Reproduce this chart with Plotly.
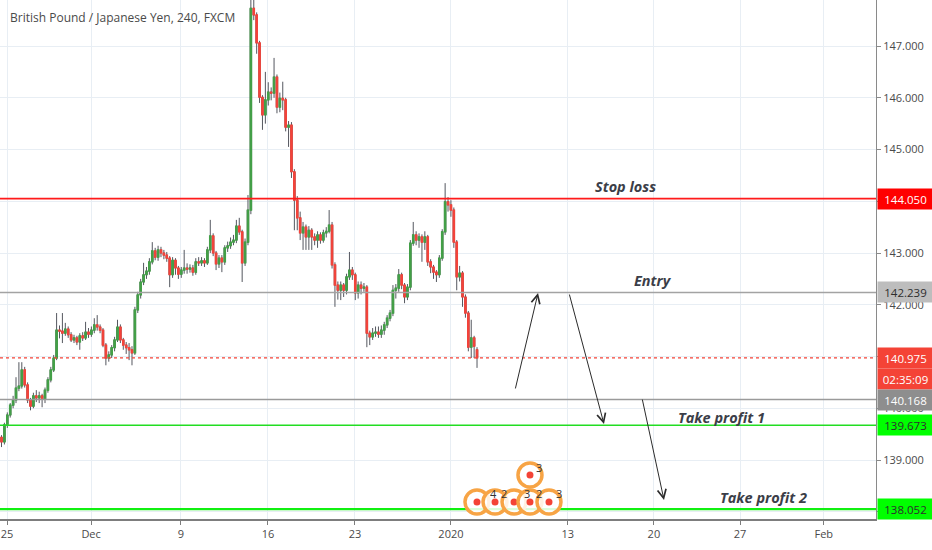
import plotly.graph_objects as go

# ---------------- data (GBP/JPY, 4h bars) ----------------
open_ = [139.44, 139.35, 139.68, 139.87, 140.06, 140.16, 140.39, 140.43, 140.74, 140.45,
         140.16, 140.04, 140.24, 140.20, 140.24, 140.18, 140.35, 140.55, 140.74, 140.97,
         141.51, 141.49, 141.45, 141.53, 141.42, 141.32, 141.36, 141.28, 141.40, 141.36,
         141.47, 141.43, 141.51, 141.61, 141.57, 141.51, 141.22, 140.97, 141.03, 141.17,
         141.32, 141.57, 141.32, 141.22, 141.17, 141.13, 141.07, 141.90, 142.19, 142.44,
         142.58, 142.65, 142.83, 143.04, 142.92, 143.06, 143.00, 142.96, 142.90, 142.58,
         142.86, 142.71, 142.59, 142.67, 142.71, 142.69, 142.71, 142.63, 142.83, 142.81,
         142.85, 142.81, 143.06, 143.33, 143.00, 142.79, 142.90, 142.83, 143.10, 143.14,
         143.21, 143.25, 143.52, 143.41, 142.81, 143.21, 143.83, 147.73, 147.60, 147.06,
         146.01, 145.67, 145.96, 146.11, 146.09, 146.40, 145.82, 145.99, 145.96, 145.43,
         145.47, 144.57, 144.02, 143.68, 143.39, 143.50, 143.31, 143.44, 143.31, 143.25,
         143.35, 143.25, 143.39, 143.42, 143.54, 142.77, 142.38, 142.28, 142.38, 142.28,
         142.54, 142.67, 142.58, 142.23, 142.38, 142.32, 142.34, 141.45, 141.38, 141.45,
         141.47, 141.43, 141.51, 141.61, 141.74, 141.84, 142.28, 142.32, 142.58, 142.38,
         142.15, 142.34, 143.19, 143.35, 143.25, 143.31, 143.21, 143.31, 142.83, 142.73,
         142.63, 142.58, 142.90, 143.41, 143.99, 143.93, 143.83, 143.21, 142.54, 142.61,
         142.15, 141.84, 141.18, 141.36, 141.13]

high = [139.48, 139.72, 139.92, 140.10, 140.24, 140.60, 140.89, 140.89, 140.80, 140.50,
        140.20, 140.30, 140.35, 140.32, 140.28, 140.40, 140.60, 140.80, 141.03, 141.84,
        141.60, 141.84, 141.65, 141.58, 141.47, 141.42, 141.40, 141.45, 141.47, 141.67,
        141.55, 141.58, 141.74, 141.80, 141.62, 141.55, 141.26, 141.10, 141.22, 141.38,
        141.71, 141.62, 141.36, 141.28, 141.26, 141.20, 141.96, 142.25, 142.50, 142.81,
        142.73, 142.90, 143.21, 143.10, 143.14, 143.12, 143.06, 143.02, 142.94, 142.92,
        142.90, 142.75, 142.73, 143.06, 142.80, 142.78, 142.77, 142.90, 142.92, 142.92,
        142.90, 143.12, 143.64, 143.38, 143.04, 142.96, 142.96, 143.15, 143.22, 143.30,
        143.35, 143.64, 143.68, 143.45, 143.28, 144.12, 147.95, 147.95, 147.65, 147.10,
        146.05, 146.50, 146.30, 146.20, 146.77, 146.45, 146.10, 146.31, 146.00, 145.55,
        145.53, 144.62, 144.10, 143.80, 143.60, 143.55, 143.52, 143.48, 143.38, 143.42,
        143.40, 143.45, 143.50, 143.83, 143.60, 142.82, 142.45, 142.45, 142.42, 142.60,
        143.02, 142.73, 142.62, 142.45, 142.45, 142.42, 142.38, 141.50, 141.55, 141.58,
        141.58, 141.60, 141.67, 141.80, 141.90, 142.38, 142.40, 142.69, 142.62, 142.42,
        142.40, 143.25, 143.60, 143.42, 143.38, 143.36, 143.42, 143.35, 142.88, 142.77,
        142.67, 142.96, 143.46, 144.35, 144.08, 144.02, 143.88, 143.25, 142.75, 142.65,
        142.20, 141.88, 141.71, 141.40, 141.18]

low = [139.25, 139.30, 139.62, 139.82, 140.00, 140.10, 140.33, 140.38, 140.40, 140.10,
       139.96, 140.00, 140.12, 140.10, 140.02, 140.10, 140.30, 140.50, 140.70, 140.93,
       141.35, 141.26, 141.40, 141.36, 141.28, 141.26, 141.22, 141.13, 141.30, 141.32,
       141.36, 141.38, 141.45, 141.50, 141.45, 141.18, 140.83, 140.90, 140.97, 141.10,
       141.28, 141.26, 141.13, 141.05, 140.93, 140.83, 141.03, 141.84, 142.12, 142.38,
       142.50, 142.58, 142.78, 142.86, 142.85, 142.92, 142.88, 142.83, 142.34, 142.52,
       142.58, 142.50, 142.52, 142.60, 142.60, 142.62, 142.56, 142.58, 142.75, 142.75,
       142.73, 142.77, 143.00, 142.94, 142.67, 142.71, 142.63, 142.77, 143.02, 143.08,
       143.15, 143.19, 143.35, 142.44, 142.75, 143.15, 143.75, 147.50, 146.85, 145.90,
       145.38, 145.50, 145.85, 145.95, 146.00, 145.70, 145.72, 145.76, 145.35, 145.05,
       144.45, 143.44, 143.44, 143.25, 143.06, 143.06, 143.06, 143.06, 143.15, 143.10,
       143.18, 143.20, 143.30, 143.38, 142.70, 141.96, 142.10, 142.09, 142.15, 142.20,
       142.48, 142.48, 142.09, 142.12, 142.20, 142.25, 141.18, 141.22, 141.32, 141.38,
       141.36, 141.36, 141.42, 141.55, 141.68, 141.78, 142.12, 142.25, 142.30, 142.03,
       142.09, 142.28, 143.14, 143.15, 143.10, 142.83, 143.06, 142.75, 142.61, 142.50,
       142.44, 142.52, 142.85, 143.35, 143.80, 143.70, 143.10, 142.28, 142.45, 141.96,
       141.75, 141.10, 140.97, 140.97, 140.78]

close = [139.35, 139.68, 139.87, 140.06, 140.16, 140.39, 140.43, 140.74, 140.45, 140.16,
         140.04, 140.24, 140.20, 140.24, 140.18, 140.35, 140.55, 140.74, 140.97, 141.51,
         141.49, 141.45, 141.53, 141.42, 141.32, 141.36, 141.28, 141.40, 141.36, 141.47,
         141.43, 141.51, 141.61, 141.57, 141.51, 141.22, 140.97, 141.03, 141.17, 141.32,
         141.57, 141.32, 141.22, 141.17, 141.13, 141.07, 141.90, 142.19, 142.44, 142.58,
         142.65, 142.83, 143.04, 142.92, 143.06, 143.00, 142.96, 142.90, 142.58, 142.86,
         142.71, 142.59, 142.67, 142.71, 142.69, 142.71, 142.63, 142.83, 142.81, 142.85,
         142.81, 143.06, 143.33, 143.00, 142.79, 142.90, 142.83, 143.10, 143.14, 143.21,
         143.25, 143.52, 143.41, 142.81, 143.21, 143.83, 147.73, 147.60, 147.06, 146.01,
         145.67, 145.96, 146.11, 146.09, 146.40, 145.82, 145.99, 145.96, 145.43, 145.47,
         144.57, 144.02, 143.68, 143.39, 143.50, 143.31, 143.44, 143.31, 143.25, 143.35,
         143.25, 143.39, 143.42, 143.54, 142.77, 142.38, 142.28, 142.38, 142.28, 142.54,
         142.67, 142.58, 142.23, 142.38, 142.32, 142.34, 141.45, 141.38, 141.45, 141.47,
         141.43, 141.51, 141.61, 141.74, 141.84, 142.28, 142.32, 142.58, 142.38, 142.15,
         142.34, 143.19, 143.35, 143.25, 143.31, 143.21, 143.31, 142.83, 142.73, 142.63,
         142.58, 142.90, 143.41, 143.99, 143.93, 143.83, 143.21, 142.54, 142.61, 142.15,
         141.84, 141.18, 141.36, 141.20, 140.975]

# x-axis: bar-index positions of the date ticks and their labels
tick_pos = [1.9, 30.9, 61.9, 91.9, 121.9, 155.0, 195.3, 225.0, 254.7, 283.6]
tick_text = ["25", "Dec", "9", "16", "23", "2020", "13", "20", "27", "Feb"]

# y-axis ticks (labels hidden where the reference covers them with price boxes)
y_ticks = [138, 139, 140, 141, 142, 143, 144, 145, 146, 147]
y_tick_text = ["", "139.000", "140.000", "", "142.000", "143.000", "", "145.000", "146.000", "147.000"]

# trade levels
stop_loss = 144.050
entry = 142.239
last_price = 140.975
level_mid = 140.168
take_profit_1 = 139.673
take_profit_2 = 138.052
countdown = "02:35:09"

# ---------------- figure ----------------
bars = list(range(len(close)))
body_hi = [max(o, c) for o, c in zip(open_, close)]
body_lo = [min(o, c) for o, c in zip(open_, close)]

GREEN = "#43A047"
RED = "#F4433A"
WICK = "#54575f"
FONT = "Open Sans"

fig = go.Figure()
# wicks (grey)
fig.add_trace(go.Candlestick(
    x=bars, open=open_, high=high, low=low, close=close,
    increasing=dict(line=dict(color=WICK, width=1), fillcolor=WICK),
    decreasing=dict(line=dict(color=WICK, width=1), fillcolor=WICK),
    hoverinfo="skip", showlegend=False))
# coloured bodies
fig.add_trace(go.Candlestick(
    x=bars, open=open_, high=body_hi, low=body_lo, close=close,
    increasing=dict(line=dict(color=GREEN, width=1.2), fillcolor=GREEN),
    decreasing=dict(line=dict(color=RED, width=1.2), fillcolor=RED),
    hoverinfo="skip", showlegend=False))

shapes = []
def hline(y, color, width=1, dash="solid"):
    shapes.append(dict(type="line", xref="paper", x0=0, x1=1, yref="y", y0=y, y1=y,
                       line=dict(color=color, width=width, dash=dash), layer="above"))

hline(stop_loss, "#FF1A1A", 1.6)
hline(entry, "#A3A3A3", 1.5)
hline(last_price, "#F44336", 1.2, "dot")
hline(level_mid, "#9A9A9A", 1.5)
hline(take_profit_1, "#22DD22", 1.5)
hline(take_profit_2, "#11F011", 2.2)

annotations = []
# title
annotations.append(dict(text="British Pound / Japanese Yen, 240, FXCM", xref="paper", yref="paper",
                        x=0.009, y=0.966, xanchor="left", yanchor="middle", showarrow=False,
                        font=dict(family=FONT, size=12, color="#4a4a4a")))

# level labels on the chart
for txt, xp, yp in [("Stop loss", 0.7146, 0.6416), ("Entry", 0.7454, 0.4586),
                    ("Take profit 1", 0.8231, 0.1965), ("Take profit 2", 0.8721, 0.0405)]:
    annotations.append(dict(text="<b><i>" + txt + "</i></b>", xref="paper", yref="paper",
                            x=xp, y=yp, xanchor="center", yanchor="middle", showarrow=False,
                            font=dict(family=FONT, size=14.5, color="#3b3e48")))

# hand-drawn arrows
for xp, yp, ax, ay in [(0.6142, 0.4355, -23, 97), (0.6895, 0.1830, -35, -131), (0.7580, 0.0366, -22, -102)]:
    annotations.append(dict(text="", xref="paper", yref="paper", x=xp, y=yp, ax=ax, ay=ay,
                            showarrow=True, arrowhead=5, arrowsize=1.7, arrowwidth=1,
                            arrowcolor="#2b2b2b", standoff=0))

# price boxes on the right axis
def pbox(y, text, bg, fg, yshift=0):
    annotations.append(dict(text=text, xref="paper", yref="y", x=1, y=y, xanchor="left",
                            yanchor="middle", showarrow=False, xshift=1, yshift=yshift,
                            width=51, height=16, borderpad=2, bgcolor=bg, align="center",
                            font=dict(family=FONT, size=11.5, color=fg)))

pbox(stop_loss, f"{stop_loss:.3f}", "#FF0000", "white")
pbox(entry, f"{entry:.3f}", "#BDBDBD", "#2e2e2e")
pbox(last_price, f"{last_price:.3f}", "#F44336", "white")
pbox(last_price, countdown, "#F44336", "white", yshift=-21)
pbox(level_mid, f"{level_mid:.3f}", "#8E8E8E", "white")
pbox(take_profit_1, f"{take_profit_1:.3f}", "#00FF00", "#2e2e2e")
pbox(take_profit_2, f"{take_profit_2:.3f}", "#00FF00", "#2e2e2e")

# event markers (orange rings) near the bottom
ring_pos = [(0.5445, 0.0328), (0.5651, 0.0328), (0.5868, 0.0328), (0.6050, 0.0328),
            (0.6267, 0.0328), (0.6050, 0.0848)]
for xp, yp in ring_pos:
    shapes.append(dict(type="circle", xref="paper", yref="paper", xsizemode="pixel",
                       ysizemode="pixel", xanchor=xp, yanchor=yp, x0=-12, x1=12, y0=-12, y1=12,
                       line=dict(color="#F7A445", width=3.5), fillcolor="rgba(255,255,255,0.85)",
                       layer="above"))
    shapes.append(dict(type="circle", xref="paper", yref="paper", xsizemode="pixel",
                       ysizemode="pixel", xanchor=xp, yanchor=yp, x0=-3.5, x1=3.5, y0=-3.5, y1=3.5,
                       line=dict(width=0), fillcolor="#F44336", layer="above"))
for txt, xp, yp in [("4", 0.5628, 0.0482), ("2", 0.5753, 0.0482), ("3", 0.6016, 0.0482),
                    ("2", 0.6153, 0.0482), ("3", 0.6381, 0.0482), ("3", 0.6153, 0.0983)]:
    annotations.append(dict(text=txt, xref="paper", yref="paper", x=xp, y=yp, showarrow=False,
                            xanchor="center", yanchor="middle",
                            font=dict(family=FONT, size=11, color="#333333")))

fig.update_layout(
    width=932, height=550,
    margin=dict(l=0, r=56, t=0, b=31),
    paper_bgcolor="white", plot_bgcolor="white",
    showlegend=False, hovermode=False,
    shapes=shapes, annotations=annotations,
    xaxis=dict(range=[-0.52, 301.6], rangeslider=dict(visible=False),
               tickmode="array", tickvals=tick_pos, ticktext=tick_text,
               showgrid=True, gridcolor="#E8EEF4", gridwidth=1,
               showline=True, linecolor="#7d7d7d", linewidth=1.5,
               ticks="outside", ticklen=4, tickcolor="#7d7d7d",
               tickfont=dict(family=FONT, size=11, color="#4a4a4a"), zeroline=False),
    yaxis=dict(range=[137.86, 147.889], side="right",
               tickmode="array", tickvals=y_ticks, ticktext=y_tick_text,
               showgrid=True, gridcolor="#E8EEF4", gridwidth=1,
               showline=True, linecolor="#8a8a8a", linewidth=1,
               ticks="outside", ticklen=4, tickcolor="#8a8a8a",
               tickfont=dict(family=FONT, size=11, color="#4a4a4a"), zeroline=False),
)

fig.write_html("out.html", config={"displayModeBar": False},
               post_script="document.body.style.margin='0';document.body.style.overflow='hidden';")
